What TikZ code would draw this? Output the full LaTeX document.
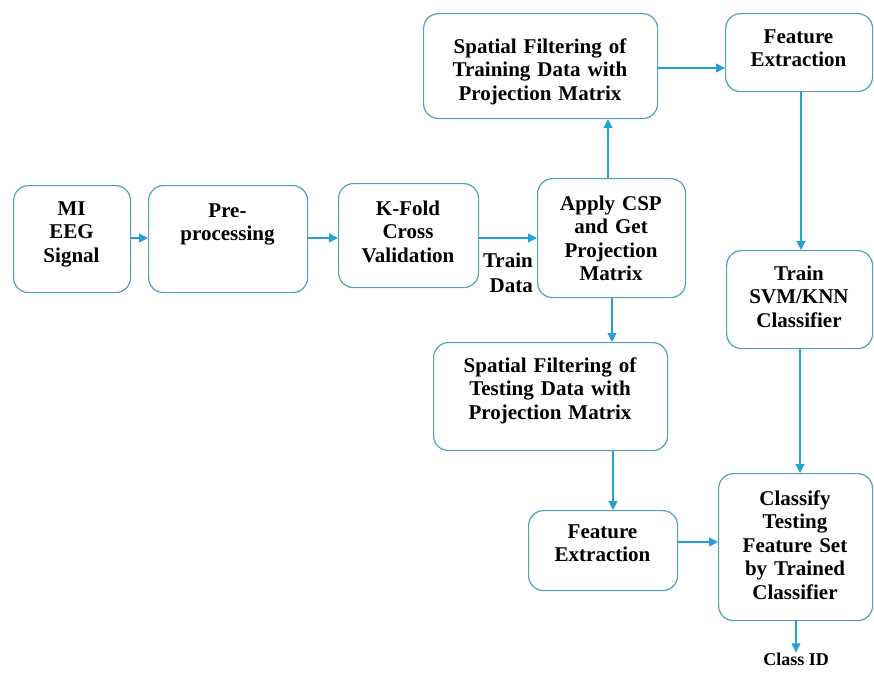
\documentclass[tikz,border=0pt]{standalone}
\usepackage{fontspec}
\setmainfont{Liberation Serif}
\usetikzlibrary{arrows.meta}
\definecolor{boxline}{RGB}{84,160,182}
\definecolor{arrline}{RGB}{38,160,214}
\begin{document}
\begin{tikzpicture}[x=1pt,y=-1pt,
  blk/.style={draw=boxline, line width=1.2pt, rounded corners=15pt, inner sep=0pt, anchor=north west, fill=white},
  txt/.style={font=\fontsize{21}{23.5}\selectfont\bfseries, align=center, inner sep=0pt, text width=240pt, anchor=base},
  arr/.style={draw=arrline, line width=1.2pt, -{Triangle[length=9pt,width=9pt]}}]
\useasboundingbox (0,0) rectangle (874,672);
% boxes
\node[blk, minimum width=117pt, minimum height=107pt] (mi) at (13,185) {};
\node[blk, minimum width=159pt, minimum height=107pt] (pre) at (148,185) {};
\node[blk, minimum width=140pt, minimum height=104pt] (kf) at (338,183) {};
\node[blk, minimum width=148pt, minimum height=119pt] (csp) at (537,178) {};
\node[blk, minimum width=234pt, minimum height=105pt] (st) at (423,13) {};
\node[blk, minimum width=147pt, minimum height=78pt] (fea) at (725,13) {};
\node[blk, minimum width=146pt, minimum height=98pt] (svm) at (726,250) {};
\node[blk, minimum width=234pt, minimum height=108pt] (ste) at (433,342) {};
\node[blk, minimum width=149pt, minimum height=80pt] (feb) at (528,510) {};
\node[blk, minimum width=154pt, minimum height=147pt] (cls) at (718,473) {};
% texts
\node[txt] (mit) at (71.5,215) {MI\\EEG\\Signal};
\node[txt] (pret) at (227.5,217) {Pre-\\processing};
\node[txt] (kft) at (408,215) {K-Fold\\Cross\\Validation};
\node[txt] (cspt) at (611,210) {Apply CSP\\and Get\\Projection\\Matrix};
\node[txt] (stt) at (540,53) {Spatial Filtering of\\Training Data with\\Projection Matrix};
\node[txt] (feat) at (798.5,43) {Feature\\Extraction};
\node[txt] (svmt) at (799,280) {Train\\SVM/KNN\\Classifier};
\node[txt] (stet) at (550,372) {Spatial Filtering of\\Testing Data with\\Projection Matrix};
\node[txt] (febt) at (602.5,538) {Feature\\Extraction};
\node[txt] (clst) at (795,505) {Classify\\Testing\\Feature Set\\by Trained\\Classifier};
\node[font=\fontsize{21}{25}\selectfont\bfseries, align=right, inner sep=0pt, anchor=base east] (td) at (533,292) {Train\\Data};
\node[font=\fontsize{18}{21}\selectfont\bfseries, inner sep=0pt, anchor=base] (cid) at (796,665) {Class ID};
% connectors
\draw[arr] (mi.east |- 0,238) -- (pre.west |- 0,238);
\draw[arr] (pre.east |- 0,238) -- (kf.west |- 0,238);
\draw[arr] (kf.east |- 0,238) -- (csp.west |- 0,238);
\draw[arr] (csp.north -| 608,0) -- (st.south -| 608,0);
\draw[arr] (st.east |- 0,68) -- (fea.west |- 0,68);
\draw[arr] (fea.south -| 801,0) -- (svm.north -| 801,0);
\draw[arr] (svm.south -| 800,0) -- (cls.north -| 800,0);
\draw[arr] (csp.south -| 612,0) -- (ste.north -| 612,0);
\draw[arr] (ste.south -| 613,0) -- (feb.north -| 613,0);
\draw[arr] (feb.east |- 0,542) -- (cls.west |- 0,542);
\draw[arr] (cls.south -| 796,0) -- (cid.north -| 796,0);
\end{tikzpicture}
\end{document}
